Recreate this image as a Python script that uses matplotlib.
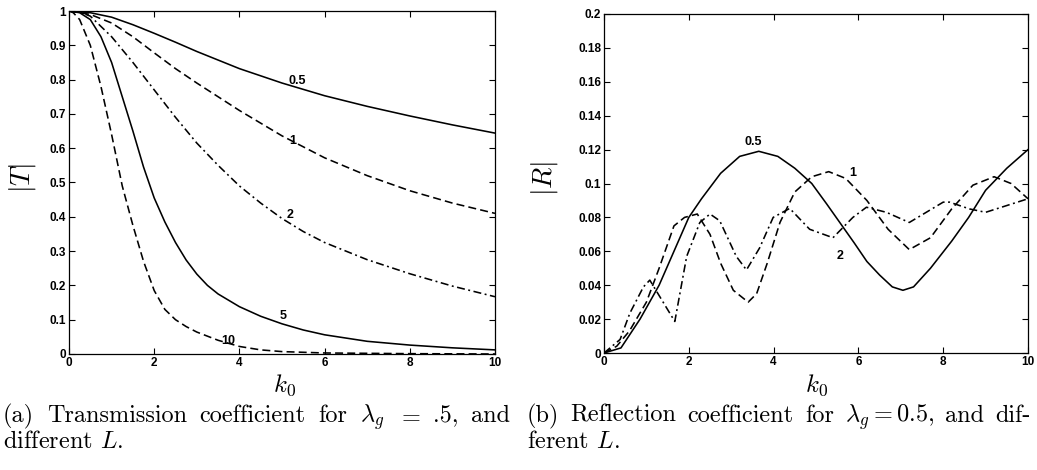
import matplotlib
matplotlib.use('Agg')
import matplotlib.pyplot as plt
from matplotlib.ticker import FuncFormatter, MultipleLocator

plt.rcParams['mathtext.fontset'] = 'cm'
plt.rcParams['font.family'] = ['Liberation Sans', 'DejaVu Sans']

# ---------------- data: |T| (left panel) ----------------
k_T05 = [0, 0.5, 1, 1.5, 2, 2.5, 3, 4, 5, 6, 7, 8, 9, 10]
T_05 = [1, 0.995, 0.982, 0.96, 0.935, 0.909, 0.882, 0.832, 0.79, 0.753, 0.722, 0.694,
        0.668, 0.644]

k_T1 = [0, 0.5, 1, 1.5, 2, 2.5, 3, 4, 5, 6, 7, 8, 9, 10]
T_1 = [1, 0.99, 0.965, 0.925, 0.878, 0.832, 0.79, 0.71, 0.636, 0.572, 0.52, 0.476, 0.44, 0.41]

k_T2 = [0, 0.25, 0.5, 1, 1.5, 2, 2.5, 3, 3.5, 4, 4.5, 5, 5.5, 6, 7, 8, 9, 10]
T_2 = [1, 0.997, 0.985, 0.925, 0.85, 0.77, 0.69, 0.615, 0.55, 0.49, 0.44, 0.395, 0.357,
       0.325, 0.275, 0.234, 0.198, 0.167]

k_T5 = [0, 0.25, 0.5, 0.75, 1, 1.25, 1.5, 1.75, 2, 2.25, 2.5, 2.75, 3, 3.25, 3.5, 4, 4.5,
        5, 5.5, 6, 7, 8, 9, 10]
T_5 = [1, 0.995, 0.975, 0.925, 0.85, 0.75, 0.65, 0.545, 0.455, 0.385, 0.325, 0.274, 0.233,
       0.2, 0.175, 0.138, 0.11, 0.088, 0.07, 0.056, 0.037, 0.026, 0.018, 0.012]

k_T10 = [0, 0.1, 0.25, 0.5, 0.75, 1, 1.25, 1.5, 1.75, 2, 2.25, 2.5, 2.75, 3, 3.5, 4, 4.5,
         5, 6, 7, 8, 10]
T_10 = [1, 0.995, 0.975, 0.9, 0.78, 0.64, 0.49, 0.375, 0.27, 0.185, 0.13, 0.1, 0.08, 0.064,
        0.04, 0.022, 0.012, 0.007, 0.003, 0.002, 0.001, 0.0]

T_labels = ['0.5', '1', '2', '5', '10']
T_label_k = [5.35, 5.26, 5.19, 5.02, 3.74]
T_label_v = [0.797, 0.622, 0.405, 0.11, 0.038]

# ---------------- data: |R| (right panel) ----------------
k_R05 = [0, 0.4, 0.85, 1.3, 1.65, 2, 2.3, 2.75, 3.2, 3.65, 4.1, 4.5, 4.9, 5.25, 5.9,
         6.2, 6.5, 6.8, 7.05, 7.3, 7.7, 8.2, 8.6, 9.0, 9.5, 10]
R_05 = [0, 0.003, 0.02, 0.04, 0.06, 0.08, 0.091, 0.106, 0.116, 0.119, 0.116, 0.109, 0.1,
        0.088, 0.065, 0.054, 0.046, 0.039, 0.037, 0.039, 0.05, 0.066, 0.08, 0.096, 0.109,
        0.12]

k_R1 = [0, 0.3, 0.6, 1.0, 1.3, 1.65, 1.9, 2.2, 2.5, 2.75, 3.05, 3.4, 3.6, 3.85, 4.15,
        4.5, 4.9, 5.3, 5.7, 6.2, 6.7, 7.2, 7.7, 8.2, 8.7, 9.2, 9.6, 10]
R_1 = [0, 0.004, 0.013, 0.03, 0.05, 0.075, 0.08, 0.082, 0.07, 0.053, 0.037, 0.03, 0.035,
       0.053, 0.077, 0.095, 0.104, 0.107, 0.103, 0.09, 0.073, 0.061, 0.068, 0.085, 0.099,
       0.104, 0.1, 0.091]

k_R2 = [0, 0.38, 0.61, 0.93, 1.08, 1.67, 1.95, 2.26, 2.5, 2.73, 3.12, 3.36, 3.67, 3.99,
        4.38, 4.85, 5.4, 5.87, 6.19, 6.66, 7.2, 7.6, 8.0, 8.15, 8.62, 9.0, 10]
R_2 = [0, 0.008, 0.0235, 0.039, 0.043, 0.0186, 0.057, 0.077, 0.082, 0.078, 0.057, 0.049,
       0.062, 0.08, 0.0853, 0.073, 0.068, 0.08, 0.086, 0.083, 0.077, 0.083, 0.089, 0.089,
       0.085, 0.083, 0.091]

R_labels = ['0.5', '1', '2']
R_label_k = [3.51, 5.87, 5.57]
R_label_v = [0.1245, 0.106, 0.057]

# ---------------- figure ----------------
W, H = 1037, 470
fig = plt.figure(figsize=(W / 100, H / 100), dpi=100)


def px_axes(l, t, r, b):
    return fig.add_axes([l / W, 1 - b / H, (r - l) / W, (b - t) / H])


ax1 = px_axes(69, 11, 495, 354)
ax2 = px_axes(604, 14, 1028, 353)

LW = 1.15
DASH = (0, (5.0, 2.6))
DASHDOT = (0, (5.0, 2.2, 1.2, 2.2))

ax1.plot(k_T05, T_05, color='k', lw=LW, ls='-')
ax1.plot(k_T1, T_1, color='k', lw=LW, ls=DASH)
ax1.plot(k_T2, T_2, color='k', lw=LW, ls=DASHDOT)
ax1.plot(k_T5, T_5, color='k', lw=LW, ls='-')
ax1.plot(k_T10, T_10, color='k', lw=LW, ls=DASH)
for s, x, y in zip(T_labels, T_label_k, T_label_v):
    ax1.text(x, y, s, ha='center', va='center', fontsize=9, fontweight='bold')

ax2.plot(k_R05, R_05, color='k', lw=LW, ls='-')
ax2.plot(k_R1, R_1, color='k', lw=LW, ls=DASH)
ax2.plot(k_R2, R_2, color='k', lw=LW, ls=DASHDOT)
for s, x, y in zip(R_labels, R_label_k, R_label_v):
    ax2.text(x, y, s, ha='center', va='center', fontsize=9, fontweight='bold')

fmt = FuncFormatter(lambda v, p: '%g' % round(v, 6))
for ax, ymax, ystep in ((ax1, 1.0, 0.1), (ax2, 0.2, 0.02)):
    ax.set_xlim(0, 10)
    ax.set_ylim(0, ymax)
    ax.xaxis.set_major_locator(MultipleLocator(2))
    ax.yaxis.set_major_locator(MultipleLocator(ystep))
    ax.xaxis.set_major_formatter(fmt)
    ax.yaxis.set_major_formatter(fmt)
    ax.tick_params(direction='in', top=True, right=True, length=4, width=0.8,
                   labelsize=8.5, pad=2)
    for lab in ax.get_xticklabels() + ax.get_yticklabels():
        lab.set_fontweight('bold')
    for sp in ax.spines.values():
        sp.set_linewidth(0.9)

# axis labels
fig.text(23 / W, 1 - 178 / H, r'$|T|$', rotation=90, fontsize=20, ha='center', va='center')
fig.text(545 / W, 1 - 178 / H, r'$|R|$', rotation=90, fontsize=20, ha='center', va='center')
fig.text(285 / W, 1 - 385 / H, r'$k_0$', fontsize=18, ha='center', va='center')
fig.text(817 / W, 1 - 385 / H, r'$k_0$', fontsize=18, ha='center', va='center')

# captions (justified first lines)
CAP_FS = 17.5
renderer = fig.canvas.get_renderer()


def justify(words, x0, x1, ybase):
    ts = [fig.text(0, 1 - ybase / H, w, fontsize=CAP_FS, family='cmr10', va='baseline')
          for w in words]
    widths = [t.get_window_extent(renderer).width for t in ts]
    gap = (x1 - x0 - sum(widths)) / (len(words) - 1)
    x = x0
    for t, w in zip(ts, widths):
        t.set_x(x / W)
        x += w + gap


justify(['(a)', 'Transmission', 'coefficient', 'for', r'$\lambda_g$', '$=$', '.5,', 'and'],
        3, 510, 422)
fig.text(3 / W, 1 - 448 / H, r'different $L$.', fontsize=CAP_FS, family='cmr10', va='baseline')
justify(['(b)', 'Reflection', 'coefficient', 'for', r'$\lambda_g = 0.5$,', 'and', 'dif-'],
        527, 1031, 422)
fig.text(527 / W, 1 - 448 / H, r'ferent $L$.', fontsize=CAP_FS, family='cmr10', va='baseline')

fig.savefig('out.png', dpi=100)
